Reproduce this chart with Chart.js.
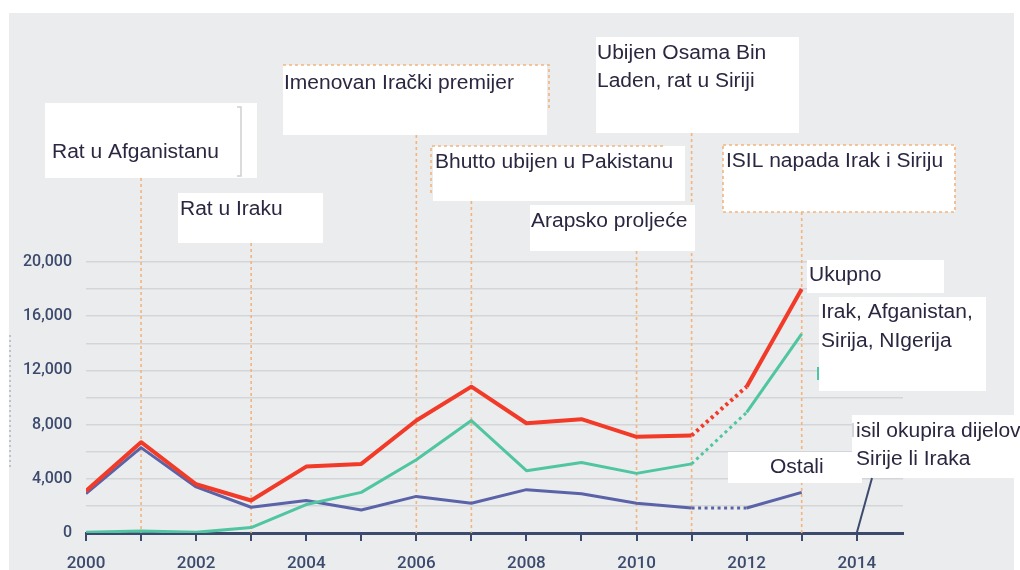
<!DOCTYPE html>
<html>
<head>
<meta charset="utf-8">
<script src="https://cdn.jsdelivr.net/npm/chart.js@4.4.1/dist/chart.umd.min.js"></script>
<style>
  html, body { margin: 0; padding: 0; background: #ffffff; }
  #wrap { position: relative; width: 1020px; height: 570px; }
  canvas { display: block; }
</style>
</head>
<body>
<div id="wrap"><canvas id="c" width="1020" height="570"></canvas></div>
<script>
// ---- data ----
const years = [2000, 2001, 2002, 2003, 2004, 2005, 2006, 2007, 2008, 2009, 2010, 2011, 2012, 2013];
const total = [3100, 6700, 3600, 2400, 4900, 5100, 8300, 10800, 8100, 8400, 7100, 7200, 10800, 18000];
const fourCountries = [50, 150, 50, 400, 2100, 3000, 5400, 8300, 4600, 5200, 4400, 5100, 8900, 14700];
const others = [2900, 6300, 3400, 1900, 2400, 1700, 2700, 2200, 3200, 2900, 2200, 1850, 1850, 3000];
const estimatedFromYear = 2011; // segment 2011-2012 drawn dotted
const yTickValues = [0, 4000, 8000, 12000, 16000, 20000];
const xTickLabelYears = [2000, 2002, 2004, 2006, 2008, 2010, 2012, 2014];
const seriesNames = ['Ukupno', 'Irak, Afganistan, Sirija, Nigerija', 'Ostali'];

// events (year where the dotted line drops to the axis + text)
const eventYears = [2001, 2003, 2006, 2007, 2010, 2011, 2013];
const eventLabels = [
  ['Rat u Afganistanu'],
  ['Rat u Iraku'],
  ['Imenovan Irački premijer'],
  ['Bhutto ubijen u Pakistanu'],
  ['Arapsko proljeće'],
  ['Ubijen Osama Bin', 'Laden, rat u Siriji'],
  ['ISIL napada Irak i Siriju']
];
const lastEventYear = 2014;
const lastEventLabel = ['isil okupira dijelov', 'Sirije li Iraka'];

// ---- styling / layout (not data) ----
const eventBoxes = [
  {x: 45, y: 103, w: 212, h: 75, tx: 52, ty: [158], bracket: true},
  {x: 178, y: 193, w: 145, h: 50, tx: 180, ty: [215]},
  {x: 283, y: 65, w: 264, h: 70, tx: 284, ty: [89], border: 'topRight'},
  {x: 433, y: 146, w: 252, h: 55, tx: 435, ty: [168], border: 'topLeft'},
  {x: 530, y: 205, w: 165, h: 46, tx: 531, ty: [227]},
  {x: 596, y: 37, w: 203, h: 96, tx: 597, ty: [59, 87]},
  {x: 723, y: 145, w: 232, h: 67, tx: 726, ty: [167], border: 'all'}
];
const seriesBoxes = [
  {x: 807, y: 260, w: 137, h: 33, tx: 809, ty: [281], lines: [seriesNames[0]]},
  {x: 819, y: 297, w: 167, h: 94, tx: 821, ty: [318, 347], lines: ['Irak, Afganistan,', 'Sirija, NIgerija']},
  {x: 728, y: 452, w: 134, h: 31, tx: 770, ty: [473], lines: [seriesNames[2]]}
];
const lastBox = {x: 852, y: 415, w: 168, h: 63, tx: 856, ty: [437, 465]};

const RED = '#f23a28', GREEN = '#4fc5a2', BLUE = '#5b63a8', NAVY = '#3c4a6d';
const ORANGE = '#f4b47c', TEXT = '#2a2740', BG = '#ebeced', GRID = '#d3d5d8';

function dotted() {
  return ctx => (ctx.p0.parsed.x >= estimatedFromYear && ctx.p1.parsed.x <= estimatedFromYear + 1) ? [3, 3.5] : undefined;
}
function toXY(arr) { return years.map((y, i) => ({x: y, y: arr[i]})); }

function drawText(ctx, str, x, y) {
  ctx.save();
  ctx.translate(x, y);
  ctx.scale(1.05, 1);
  ctx.fillText(str, 0, 0);
  ctx.restore();
}
function drawBox(ctx, b, lines) {
  ctx.fillStyle = '#ffffff';
  ctx.fillRect(b.x, b.y, b.w, b.h);
  ctx.fillStyle = TEXT;
  ctx.font = '20px "Liberation Sans", Arial, sans-serif';
  ctx.textBaseline = 'alphabetic';
  ctx.textAlign = 'left';
  lines.forEach((t, i) => drawText(ctx, t, b.tx, b.ty[i]));
}
function dashedPath(ctx, pts) {
  ctx.save();
  ctx.strokeStyle = ORANGE;
  ctx.lineWidth = 1.6;
  ctx.setLineDash([3, 3]);
  ctx.beginPath();
  ctx.moveTo(pts[0][0], pts[0][1]);
  for (let i = 1; i < pts.length; i++) ctx.lineTo(pts[i][0], pts[i][1]);
  ctx.stroke();
  ctx.restore();
}

const decor = {
  id: 'decor',
  beforeDraw(chart) {
    const ctx = chart.ctx;
    ctx.save();
    ctx.fillStyle = '#ffffff';
    ctx.fillRect(0, 0, 1020, 570);
    ctx.fillStyle = BG;
    ctx.fillRect(9, 13, 1005, 557);
    ctx.strokeStyle = '#8e98b0';
    ctx.lineWidth = 1;
    ctx.setLineDash([2, 3]);
    ctx.beginPath(); ctx.moveTo(10, 335); ctx.lineTo(10, 468); ctx.stroke();
    ctx.restore();
  },
  beforeDatasetsDraw(chart) {
    const ctx = chart.ctx, xs = chart.scales.x, ys = chart.scales.y;
    eventYears.forEach((yr, i) => {
      const b = eventBoxes[i];
      const px = xs.getPixelForValue(yr);
      dashedPath(ctx, [[px, b.y + b.h], [px, ys.getPixelForValue(0)]]);
    });
  },
  afterDatasetsDraw(chart) {
    const ctx = chart.ctx, xs = chart.scales.x, ys = chart.scales.y;
    ctx.save();
    eventBoxes.forEach((b, i) => drawBox(ctx, b, eventLabels[i]));
    let b = eventBoxes[2];
    dashedPath(ctx, [[b.x, b.y], [b.x + b.w + 2, b.y], [b.x + b.w + 2, b.y + 45]]);
    b = eventBoxes[3];
    dashedPath(ctx, [[b.x - 2, b.y + 47], [b.x - 2, b.y], [b.x + 232, b.y]]);
    b = eventBoxes[6];
    dashedPath(ctx, [[b.x, b.y], [b.x + b.w, b.y], [b.x + b.w, b.y + b.h], [b.x, b.y + b.h], [b.x, b.y]]);
    b = eventBoxes[0];
    ctx.strokeStyle = '#cfcfcf';
    ctx.lineWidth = 1.5;
    ctx.beginPath();
    ctx.moveTo(b.x + 192, b.y + 4); ctx.lineTo(b.x + 196, b.y + 4);
    ctx.lineTo(b.x + 196, b.y + 73); ctx.lineTo(b.x + 192, b.y + 73);
    ctx.stroke();
    seriesBoxes.forEach(sb => drawBox(ctx, sb, sb.lines));
    ctx.strokeStyle = GREEN; ctx.lineWidth = 2;
    ctx.beginPath(); ctx.moveTo(818, 367); ctx.lineTo(818, 380); ctx.stroke();
    drawBox(ctx, lastBox, lastEventLabel);
    ctx.strokeStyle = '#b8b8c0'; ctx.lineWidth = 1.2;
    ctx.beginPath(); ctx.moveTo(853, 423); ctx.lineTo(853, 437); ctx.stroke();
    ctx.strokeStyle = NAVY; ctx.lineWidth = 2;
    ctx.beginPath();
    ctx.moveTo(xs.getPixelForValue(lastEventYear), ys.getPixelForValue(0));
    ctx.lineTo(872, lastBox.y + lastBox.h);
    ctx.stroke();
    ctx.restore();
  }
};

const yFont = {family: 'Roboto, "Open Sans", sans-serif', size: 16, weight: '500'};
const xFont = {family: 'Roboto, "Open Sans", sans-serif', size: 17, weight: '500'};

new Chart(document.getElementById('c'), {
  type: 'line',
  data: {
    datasets: [
      {label: seriesNames[0], data: toXY(total), borderColor: RED, borderWidth: 4,
       segment: {borderDash: dotted()}},
      {label: seriesNames[1], data: toXY(fourCountries), borderColor: GREEN, borderWidth: 3,
       segment: {borderDash: dotted()}},
      {label: seriesNames[2], data: toXY(others), borderColor: BLUE, borderWidth: 3,
       segment: {borderDash: dotted()}}
    ]
  },
  options: {
    responsive: false,
    animation: false,
    events: [],
    layout: {padding: {left: 0, top: 262, right: 117, bottom: 0}},
    elements: {
      point: {radius: 0},
      line: {tension: 0, borderJoinStyle: 'round', borderCapStyle: 'butt', fill: false}
    },
    plugins: {legend: {display: false}, tooltip: {enabled: false}},
    scales: {
      x: {
        type: 'linear',
        min: 2000,
        max: 2014.84,
        afterFit: s => { s.height = 37; },
        ticks: {
          stepSize: 1,
          includeBounds: false,
          autoSkip: false,
          maxRotation: 0,
          color: NAVY,
          font: xFont,
          padding: 13,
          callback: v => xTickLabelYears.includes(v) ? String(v) : ''
        },
        grid: {drawOnChartArea: false, drawTicks: true, tickLength: 8, color: NAVY, lineWidth: 2},
        border: {display: true, color: NAVY, width: 3}
      },
      y: {
        min: 0,
        max: 20000,
        afterFit: s => { s.width = 86; },
        ticks: {
          stepSize: 2000,
          color: NAVY,
          font: yFont,
          padding: 14,
          callback: v => yTickValues.includes(v) ? v.toLocaleString('en-US') : ''
        },
        grid: {color: GRID, lineWidth: 1.6, drawTicks: false},
        border: {display: false}
      }
    }
  },
  plugins: [decor]
});
</script>
</body>
</html>
